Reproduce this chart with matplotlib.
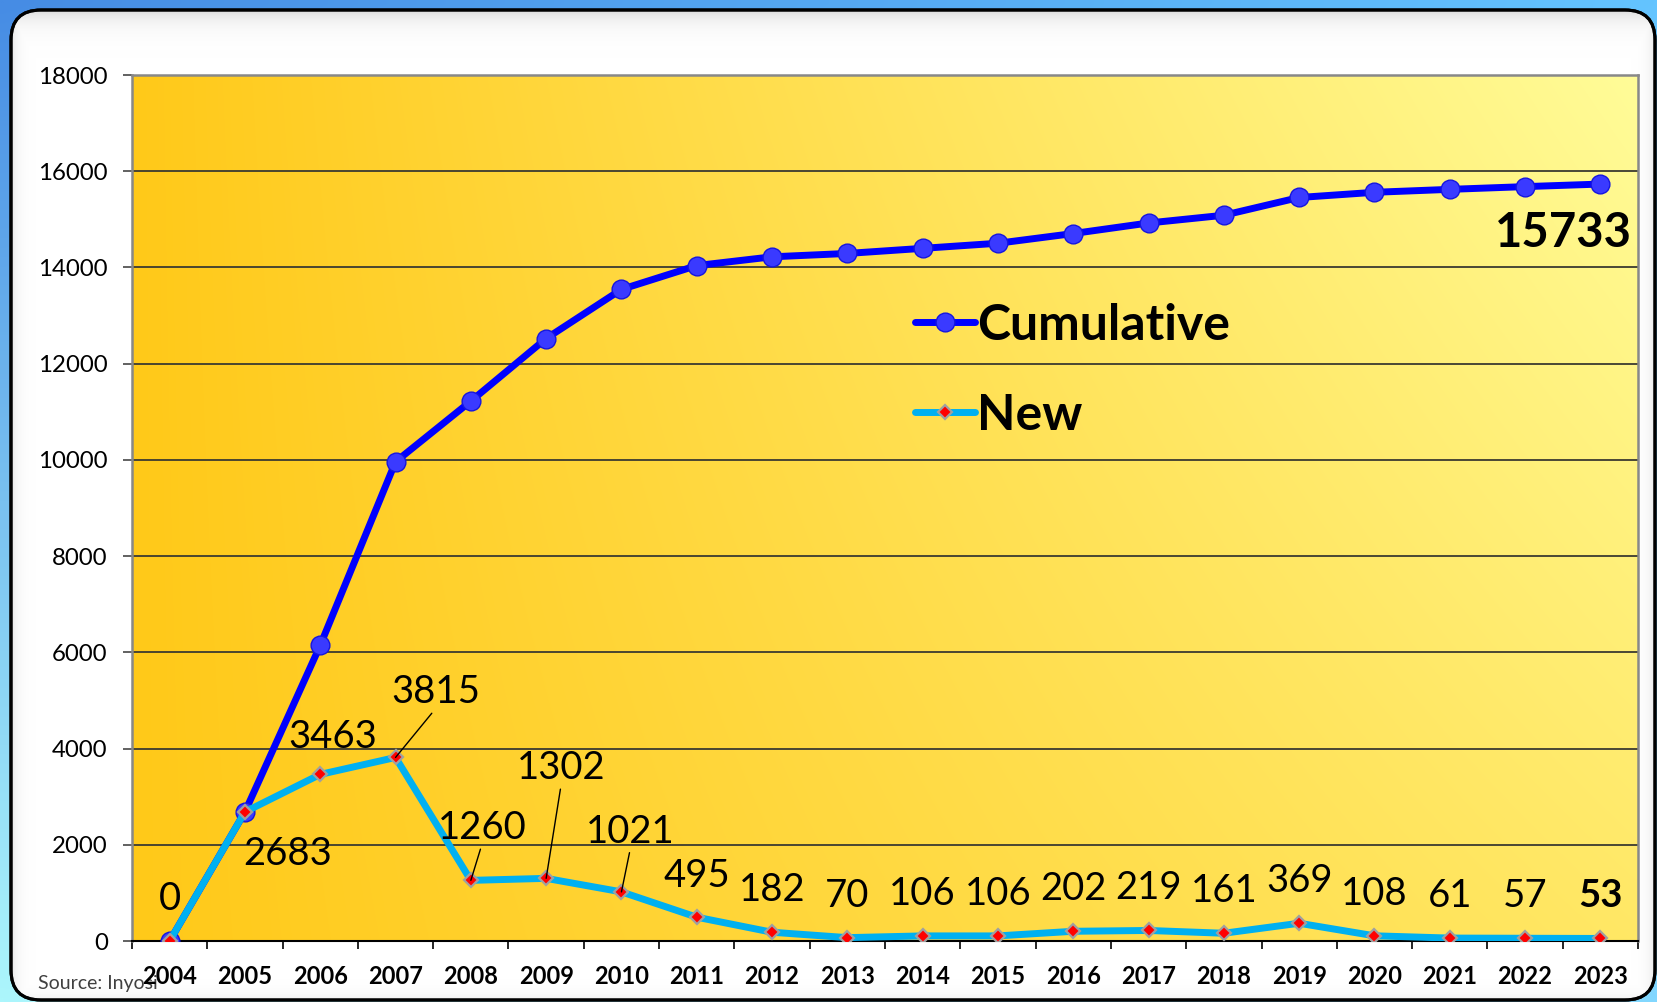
import numpy as np
import matplotlib
matplotlib.use("Agg")
import matplotlib.pyplot as plt
from matplotlib.patches import FancyBboxPatch

plt.rcParams['font.family'] = ['Lato', 'DejaVu Sans']

# ---------------- data ----------------
years = ['2004', '2005', '2006', '2007', '2008', '2009', '2010', '2011', '2012', '2013',
         '2014', '2015', '2016', '2017', '2018', '2019', '2020', '2021', '2022', '2023']
new_values = [0, 2683, 3463, 3815, 1260, 1302, 1021, 495, 182, 70,
              106, 106, 202, 219, 161, 369, 108, 61, 57, 53]
cumulative_values = [0, 2683, 6146, 9961, 11221, 12523, 13544, 14039, 14221, 14291,
                     14397, 14503, 14705, 14924, 15085, 15454, 15562, 15623, 15680, 15733]
y_ticks = [0, 2000, 4000, 6000, 8000, 10000, 12000, 14000, 16000, 18000]
series_names = ['Cumulative', 'New']
source_text = 'Source: Inyosi'

# label placement (pixel offsets from the point) - layout only
new_label_offsets = [(0, 42), (43, -42), (12, 37), (40, 65), (11, 52), (15, 110), (9, 60), (0, 41)] + [(0, 42)] * 12
leader_idx = [3, 4, 5, 6]
bold_idx = [19]

W, H = 1658, 1002
fig = plt.figure(figsize=(W / 100, H / 100), dpi=100)

# ---------------- background ----------------
bg = fig.add_axes([0, 0, 1, 1])
bg.set_xlim(0, W)
bg.set_ylim(H, 0)
bg.axis('off')
v, u = np.mgrid[0:1:120j, 0:1:200j]
c_tl = np.array([70, 140, 228]) / 255
c_tr = np.array([100, 196, 255]) / 255
c_bl = np.array([172, 246, 252]) / 255
c_br = np.array([130, 215, 255]) / 255
img = ((1 - u)[..., None] * (1 - v)[..., None] * c_tl + u[..., None] * (1 - v)[..., None] * c_tr +
       (1 - u)[..., None] * v[..., None] * c_bl + u[..., None] * v[..., None] * c_br)
bg.imshow(img, extent=[0, W, H, 0], aspect='auto', zorder=0, interpolation='bilinear')

px0, py0, pw, ph = 11, 10, 1644, 990
panel = FancyBboxPatch((px0, py0), pw, ph, boxstyle='round,pad=0,rounding_size=30',
                       fc='white', ec='black', lw=2.2, zorder=1)
bg.add_patch(panel)
yy, xx = np.mgrid[0:ph, 0:pw]
alpha = np.maximum.reduce([0.30 * np.exp(-yy / 11.0), 0.22 * np.exp(-xx / 6.0),
                           0.22 * np.exp(-(pw - xx) / 6.0), 0.15 * np.exp(-(ph - yy) / 6.0)])
sh = np.zeros((ph, pw, 4))
sh[..., :3] = 0.55
sh[..., 3] = alpha
shimg = bg.imshow(sh, extent=[px0, px0 + pw, py0 + ph, py0], aspect='auto', zorder=2)
shimg.set_clip_path(panel)
bg.add_patch(FancyBboxPatch((px0, py0), pw, ph, boxstyle='round,pad=0,rounding_size=30',
                            fc='none', ec='black', lw=2.2, zorder=3))
bg.text(38, 983, source_text, fontsize=14, va='center', ha='left', color='#404040',
        fontweight='normal', zorder=5)

# ---------------- main axes ----------------
ax = fig.add_axes([132 / W, (H - 941) / H, 1506 / W, 866 / H])
ax.set_xlim(-0.5, len(years) - 0.5)
ax.set_ylim(y_ticks[0], y_ticks[-1])

gv, gu = np.mgrid[0:1:150j, 0:1:300j]
t = gu * (0.6 + 0.4 * gv)
c0 = np.array([255, 201, 25]) / 255
c1 = np.array([255, 252, 152]) / 255
grad = (1 - t)[..., None] * c0 + t[..., None] * c1
ax.imshow(grad, extent=[-0.5, len(years) - 0.5, y_ticks[0], y_ticks[-1]], origin='lower',
          aspect='auto', zorder=0, interpolation='bilinear')

ax.set_axisbelow(True)
ax.set_yticks(y_ticks)
ax.yaxis.grid(True, color='#3c3a30', lw=1.3)
ax.tick_params(axis='y', direction='out', length=6.5, width=1.3, color='#555555',
               labelsize=17.3, pad=11)

xpos = np.arange(len(years))
ax.set_xticks(np.arange(-0.5, len(years), 1.0))
ax.set_xticklabels([])
ax.tick_params(axis='x', which='major', direction='out', length=6, width=1.2, color='black')
ax.set_xticks(xpos, minor=True)
ax.set_xticklabels(years, minor=True, fontweight='bold', fontsize=17)
ax.tick_params(axis='x', which='minor', length=0, pad=17)

for s in ['left', 'top', 'right']:
    ax.spines[s].set_color('#888888')
    ax.spines[s].set_linewidth(1.8)
ax.spines['bottom'].set_color('black')
ax.spines['bottom'].set_linewidth(1.5)

ax.plot(xpos, cumulative_values, color='#0000FF', lw=5, marker='o', ms=13.5,
        mfc='#3a3aFF', mec='#1515E0', mew=1.0, zorder=3, label=series_names[0],
        solid_capstyle='round')
ax.plot(xpos, new_values, color='#00B0F0', lw=5, marker='D', ms=7.5,
        mfc='#FF0000', mec='#A0A0A0', mew=1.6, zorder=4, label=series_names[1],
        solid_capstyle='round')

for i, (val, off) in enumerate(zip(new_values, new_label_offsets)):
    kw = dict(textcoords='offset pixels', ha='center', va='center', fontsize=27.5,
              fontweight='bold' if i in bold_idx else 'normal', color='black', zorder=6)
    if i in leader_idx:
        kw['arrowprops'] = dict(arrowstyle='-', color='black', lw=1.0, shrinkA=0, shrinkB=0,
                                relpos=(0.5, 0.05))
    ax.annotate(str(val), xy=(xpos[i], val), xytext=off, **kw)

ax.annotate(str(cumulative_values[-1]), xy=(xpos[-1], cumulative_values[-1]), xytext=(-37, -49),
            textcoords='offset pixels', ha='center', va='center', fontsize=34,
            fontweight='bold', color='black', zorder=6)

leg = ax.legend(loc='center left', bbox_to_anchor=((915 - 132) / 1506, (941 - 370) / 866),
                frameon=False, prop={'weight': 'bold', 'size': 36}, handlelength=1.2,
                handletextpad=0.05, borderpad=0, borderaxespad=0, labelspacing=0.9)

fig.savefig('out.png', dpi=100)
